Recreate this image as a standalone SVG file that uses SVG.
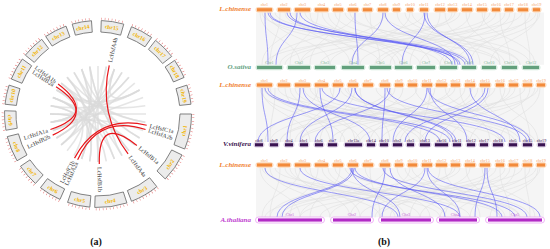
<svg xmlns="http://www.w3.org/2000/svg" xmlns:xlink="http://www.w3.org/1999/xlink" width="550" height="249" viewBox="0 0 550 249">
<style>
.box{fill:#ececec;stroke:#6e6e6e;stroke-width:.8}
.tk{fill:none;stroke:#e46a6a;stroke-width:2.2;stroke-dasharray:.5 3}
.ctx{font-family:"Liberation Serif",serif;font-weight:bold;font-size:5.6px;fill:#f2b400;text-anchor:middle;dominant-baseline:central}
.cg{fill:none;stroke:#dadada;stroke-width:1.6;opacity:.7}
.rl{fill:none;stroke:#e8161b;stroke-width:1.2}
.gn{font-family:"Liberation Serif",serif;font-size:6px;fill:#333}
.ho{fill:#fcd7b8}.bo{fill:#f28a3b}.lo{fill:#f4a46a}
.hg{fill:#d3e9dc}.bg{fill:#62a07c}.lg{fill:#7fb595}
.hv{fill:#d9cde2}.bv{fill:#3a1452}.lv{fill:#3a1452}
.ha{fill:#fff;stroke:#eaa5f2;stroke-width:.8}.ba{fill:#b22ac6}.la{fill:#c860d8}
.cl{font-family:"Liberation Serif",serif;font-size:4.2px;text-anchor:middle}
.sp{font-family:"Liberation Serif",serif;font-weight:bold;font-style:italic;font-size:7px;text-anchor:end}
.gl{fill:none;stroke:#e0e0e0;stroke-width:.6}
.gbg{fill:#f5f5f5}
.bl{fill:none;stroke:#5a5af5;stroke-width:.7;opacity:.85}
.cap{font-family:"Liberation Serif",serif;font-weight:bold;font-size:10px;fill:#111;text-anchor:middle}
</style>
<defs>
<path id="b6" d="M-9.77 -92.99A93.5 93.5 0 0 1 9.77 -92.99L8.57 -81.55A82 82 0 0 0 -8.57 -81.55Z"/>
<path id="b7" d="M-11.4 -92.8A93.5 93.5 0 0 1 11.4 -92.8L10 -81.39A82 82 0 0 0 -10 -81.39Z"/>
<path id="b8" d="M-13.02 -92.59A93.5 93.5 0 0 1 13.02 -92.59L11.41 -81.2A82 82 0 0 0 -11.41 -81.2Z"/>
<path id="b9" d="M-14.62 -92.35A93.5 93.5 0 0 1 14.62 -92.35L12.82 -80.99A82 82 0 0 0 -12.82 -80.99Z"/>
<path id="b10" d="M-16.23 -92.08A93.5 93.5 0 0 1 16.23 -92.08L14.24 -80.75A82 82 0 0 0 -14.24 -80.75Z"/>
<path id="b11" d="M-17.84 -91.78A93.5 93.5 0 0 1 17.84 -91.78L15.65 -80.49A82 82 0 0 0 -15.65 -80.49Z"/>
<path id="t6" d="M-9.96 -94.78A95.3 95.3 0 0 1 9.96 -94.78"/>
<path id="t7" d="M-11.61 -94.59A95.3 95.3 0 0 1 11.61 -94.59"/>
<path id="t8" d="M-13.26 -94.38A95.3 95.3 0 0 1 13.26 -94.38"/>
<path id="t9" d="M-14.91 -94.13A95.3 95.3 0 0 1 14.91 -94.13"/>
<path id="t10" d="M-16.54 -93.85A95.3 95.3 0 0 1 16.54 -93.85"/>
<path id="t11" d="M-18.18 -93.55A95.3 95.3 0 0 1 18.18 -93.55"/>
</defs>
<rect width="550" height="249" fill="#fff"/>

<!-- ===== Panel (a) ===== -->
<g id="a-links">
<g id="a-gray">
<path class="cg" d="M98 66Q98 114 98 162"/>
<path class="cg" d="M106.3 66.7Q98 114 81.6 159.1"/>
<path class="cg" d="M114.4 68.9Q98 114 122 155.6"/>
<path class="cg" d="M122 72.4Q98 114 56.4 138"/>
<path class="cg" d="M128.9 77.2Q98 114 50.7 122.3"/>
<path class="cg" d="M134.8 83.1Q98 114 61.2 144.9"/>
<path class="cg" d="M139.6 90Q98 114 50.7 105.7"/>
<path class="cg" d="M143.1 97.6Q98 114 52.9 130.4"/>
<path class="cg" d="M145.3 105.7Q98 114 56.4 90"/>
<path class="cg" d="M146 114Q98 114 50 114"/>
<path class="cg" d="M145.3 122.3Q98 114 67.1 77.2"/>
<path class="cg" d="M143.1 130.4Q98 114 50.7 122.3"/>
<path class="cg" d="M139.6 138Q98 114 81.6 68.9"/>
<path class="cg" d="M134.8 144.9Q98 114 52.9 97.6"/>
<path class="cg" d="M128.9 150.8Q98 114 89.7 66.7"/>
<path class="cg" d="M122 155.6Q98 114 61.2 83.1"/>
<path class="cg" d="M114.4 159.1Q98 114 74 72.4"/>
<path class="cg" d="M106.3 161.3Q98 114 52.9 97.6"/>
<path class="cg" d="M89.7 161.3Q98 114 67.1 77.2"/>
<path class="cg" d="M81.6 159.1Q98 114 81.6 68.9"/>
<path class="cg" d="M74 155.6Q98 114 56.4 90"/>
<path class="cg" d="M67.1 150.8Q98 114 89.7 66.7"/>
<path class="cg" d="M61.2 144.9Q98 114 106.3 66.7"/>
<path class="cg" d="M56.4 138Q98 114 114.4 68.9"/>
<path class="cg" d="M52.9 130.4Q98 114 128.9 77.2"/>
<path class="cg" d="M50.7 122.3Q98 114 122 72.4"/>
<path class="cg" d="M50 114Q98 114 134.8 144.9"/>
<path class="cg" d="M50.7 105.7Q98 114 114.4 159.1"/>
<path class="cg" d="M52.9 97.6Q98 114 89.7 161.3"/>
<path class="cg" d="M56.4 90Q98 114 139.6 90"/>
<path class="cg" d="M61.2 83.1Q98 114 145.3 122.3"/>
<path class="cg" d="M67.1 77.2Q98 114 81.6 159.1"/>
<path class="cg" d="M74 72.4Q98 114 139.6 138"/>
<path class="cg" d="M81.6 68.9Q98 114 98 162"/>
<path class="cg" d="M89.7 66.7Q98 114 128.9 150.8"/>
<path class="cg" d="M56.4 138Q98 114 50 114"/>
<path class="cg" d="M52.9 130.4Q98 114 52.9 97.6"/>
<path class="cg" d="M50.7 122.3Q98 114 61.2 83.1"/>
<path class="cg" d="M61.2 144.9Q98 114 50.7 105.7"/>
<path class="cg" d="M114.4 68.9Q98 114 139.6 90"/>
</g>
<g id="a-red">
<path class="rl" d="M58.07 83.91Q98 114 50.44 129.45"/>
<path class="rl" d="M56.07 86.77Q98 114 52.68 135.13"/>
<path class="rl" d="M109.25 65.28Q98 114 128.09 153.93"/>
<path class="rl" d="M146.72 125.25Q98 114 74.53 158.15"/>
<path class="rl" d="M145.55 129.45Q98 114 77.66 159.68"/>
<path class="rl" d="M136.86 145.47Q98 114 99.31 163.98"/>
</g>
</g>

<g id="a-genes">
<text class="gn" x="55.67" y="82.1" dy="2" text-anchor="end" transform="rotate(37 55.67 82.1)">LcHsfA1b</text>
<text class="gn" x="53.55" y="85.14" dy="2" text-anchor="end" transform="rotate(33 53.55 85.14)">LcHsfB2a</text>
<text class="gn" x="47.59" y="130.38" dy="2" text-anchor="end" transform="rotate(-18 47.59 130.38)">LcHsfA1a</text>
<text class="gn" x="49.97" y="136.4" dy="2" text-anchor="end" transform="rotate(-25 49.97 136.4)">LcHsfB2b</text>
<text class="gn" x="73.12" y="160.79" dy="2" text-anchor="end" transform="rotate(-62 73.12 160.79)">LcHsfC1b</text>
<text class="gn" x="76.44" y="162.42" dy="2" text-anchor="end" transform="rotate(-66 76.44 162.42)">LcHsfA2a</text>
<text class="gn" x="109.93" y="62.36" dy="2" transform="rotate(-77 109.93 62.36)">LcHsfA4b</text>
<text class="gn" x="149.64" y="125.92" dy="2" transform="rotate(13 149.64 125.92)">LcHsfC1a</text>
<text class="gn" x="148.41" y="130.38" dy="2" transform="rotate(18 148.41 130.38)">LcHsfA2b</text>
<text class="gn" x="139.19" y="147.35" dy="2" transform="rotate(39 139.19 147.35)">LcHsfB1a</text>
<text class="gn" x="129.9" y="156.33" dy="2" transform="rotate(53 129.9 156.33)">LcHsfA4a</text>
<text class="gn" x="99.39" y="166.98" dy="2" transform="rotate(88.5 99.39 166.98)">LcHsfB1b</text>
</g>

<g id="chr1" transform="translate(98 114) rotate(101)"><use href="#b11" class="box"/><use href="#t11" class="tk"/><text class="ctx" y="87.75" transform="rotate(180)">chr1</text></g>
<g id="chr2" transform="translate(98 114) rotate(125)"><use href="#b9" class="box"/><use href="#t9" class="tk"/><text class="ctx" y="87.75" transform="rotate(180)">chr2</text></g>
<g id="chr3" transform="translate(98 114) rotate(150)"><use href="#b9" class="box"/><use href="#t9" class="tk"/><text class="ctx" y="87.75" transform="rotate(180)">chr3</text></g>
<g id="chr4" transform="translate(98 114) rotate(172)"><use href="#b10" class="box"/><use href="#t10" class="tk"/><text class="ctx" y="87.75" transform="rotate(180)">chr4</text></g>
<g id="chr5" transform="translate(98 114) rotate(192)"><use href="#b7" class="box"/><use href="#t7" class="tk"/><text class="ctx" y="87.75" transform="rotate(180)">chr5</text></g>
<g id="chr6" transform="translate(98 114) rotate(211)"><use href="#b7" class="box"/><use href="#t7" class="tk"/><text class="ctx" y="87.75" transform="rotate(180)">chr6</text></g>
<g id="chr7" transform="translate(98 114) rotate(229)"><use href="#b7" class="box"/><use href="#t7" class="tk"/><text class="ctx" y="87.75" transform="rotate(180)">chr7</text></g>
<g id="chr8" transform="translate(98 114) rotate(248)"><use href="#b8" class="box"/><use href="#t8" class="tk"/><text class="ctx" y="87.75" transform="rotate(180)">chr8</text></g>
<g id="chr9" transform="translate(98 114) rotate(266)"><use href="#b6" class="box"/><use href="#t6" class="tk"/><text class="ctx" y="87.75" transform="rotate(180)">chr9</text></g>
<g id="chr10" transform="translate(98 114) rotate(282)"><use href="#b6" class="box"/><use href="#t6" class="tk"/><text class="ctx" y="-87.75">chr10</text></g>
<g id="chr11" transform="translate(98 114) rotate(299)"><use href="#b7" class="box"/><use href="#t7" class="tk"/><text class="ctx" y="-87.75">chr11</text></g>
<g id="chr12" transform="translate(98 114) rotate(316)"><use href="#b7" class="box"/><use href="#t7" class="tk"/><text class="ctx" y="-87.75">chr12</text></g>
<g id="chr13" transform="translate(98 114) rotate(333)"><use href="#b7" class="box"/><use href="#t7" class="tk"/><text class="ctx" y="-87.75">chr13</text></g>
<g id="chr14" transform="translate(98 114) rotate(350)"><use href="#b6" class="box"/><use href="#t6" class="tk"/><text class="ctx" y="-87.75">chr14</text></g>
<g id="chr15" transform="translate(98 114) rotate(9)"><use href="#b7" class="box"/><use href="#t7" class="tk"/><text class="ctx" y="-87.75">chr15</text></g>
<g id="chr16" transform="translate(98 114) rotate(28)"><use href="#b7" class="box"/><use href="#t7" class="tk"/><text class="ctx" y="-87.75">chr16</text></g>
<g id="chr17" transform="translate(98 114) rotate(45)"><use href="#b7" class="box"/><use href="#t7" class="tk"/><text class="ctx" y="-87.75">chr17</text></g>
<g id="chr18" transform="translate(98 114) rotate(61)"><use href="#b6" class="box"/><use href="#t6" class="tk"/><text class="ctx" y="-87.75">chr18</text></g>
<g id="chr19" transform="translate(98 114) rotate(78)"><use href="#b6" class="box"/><use href="#t6" class="tk"/><text class="ctx" y="-87.75">chr19</text></g>

<text class="cap" x="96" y="245">(a)</text>

<!-- ===== Panel (b) ===== -->
<g id="b-links">
<rect class="gbg" x="256" y="12.5" width="288" height="52.25"/>
<rect class="gbg" x="256" y="87.75" width="288" height="54.3"/>
<rect class="gbg" x="256" y="167.75" width="288" height="49.5"/>
<g id="gA">
<path class="gl" d="M260 12.5C260 38.6 300 38.6 300 64.75"/>
<path class="gl" d="M265 12.5C265 38.6 380 38.6 380 64.75"/>
<path class="gl" d="M270 12.5C270 38.6 330 38.6 330 64.75"/>
<path class="gl" d="M280 12.5C280 38.6 270 38.6 270 64.75"/>
<path class="gl" d="M285 12.5C285 38.6 420 38.6 420 64.75"/>
<path class="gl" d="M295 12.5C295 38.6 350 38.6 350 64.75"/>
<path class="gl" d="M300 12.5C300 38.6 262 38.6 262 64.75"/>
<path class="gl" d="M305 12.5C305 38.6 470 38.6 470 64.75"/>
<path class="gl" d="M318 12.5C318 38.6 290 38.6 290 64.75"/>
<path class="gl" d="M322 12.5C322 38.6 400 38.6 400 64.75"/>
<path class="gl" d="M335 12.5C335 38.6 445 38.6 445 64.75"/>
<path class="gl" d="M340 12.5C340 38.6 310 38.6 310 64.75"/>
<path class="gl" d="M350 12.5C350 38.6 500 38.6 500 64.75"/>
<path class="gl" d="M355 12.5C355 38.6 270 38.6 270 64.75"/>
<path class="gl" d="M365 12.5C365 38.6 430 38.6 430 64.75"/>
<path class="gl" d="M370 12.5C370 38.6 380 38.6 380 64.75"/>
<path class="gl" d="M383 12.5C383 38.6 520 38.6 520 64.75"/>
<path class="gl" d="M385 12.5C385 38.6 300 38.6 300 64.75"/>
<path class="gl" d="M397 12.5C397 38.6 460 38.6 460 64.75"/>
<path class="gl" d="M410 12.5C410 38.6 350 38.6 350 64.75"/>
<path class="gl" d="M412 12.5C412 38.6 530 38.6 530 64.75"/>
<path class="gl" d="M424 12.5C424 38.6 280 38.6 280 64.75"/>
<path class="gl" d="M440 12.5C440 38.6 410 38.6 410 64.75"/>
<path class="gl" d="M445 12.5C445 38.6 480 38.6 480 64.75"/>
<path class="gl" d="M452 12.5C452 38.6 330 38.6 330 64.75"/>
<path class="gl" d="M466 12.5C466 38.6 500 38.6 500 64.75"/>
<path class="gl" d="M470 12.5C470 38.6 390 38.6 390 64.75"/>
<path class="gl" d="M482 12.5C482 38.6 535 38.6 535 64.75"/>
<path class="gl" d="M485 12.5C485 38.6 445 38.6 445 64.75"/>
<path class="gl" d="M496 12.5C496 38.6 360 38.6 360 64.75"/>
<path class="gl" d="M500 12.5C500 38.6 510 38.6 510 64.75"/>
<path class="gl" d="M510 12.5C510 38.6 420 38.6 420 64.75"/>
<path class="gl" d="M515 12.5C515 38.6 470 38.6 470 64.75"/>
<path class="gl" d="M522 12.5C522 38.6 300 38.6 300 64.75"/>
<path class="gl" d="M525 12.5C525 38.6 530 38.6 530 64.75"/>
<path class="gl" d="M536 12.5C536 38.6 380 38.6 380 64.75"/>
<path class="gl" d="M538 12.5C538 38.6 490 38.6 490 64.75"/>
<path class="gl" d="M530 12.5C530 38.6 440 38.6 440 64.75"/>
<path class="gl" d="M275 12.5C275 38.6 500 38.6 500 64.75"/>
<path class="gl" d="M345 12.5C345 38.6 520 38.6 520 64.75"/>
<path class="gl" d="M455 12.5C455 38.6 265 38.6 265 64.75"/>
<path class="gl" d="M490 12.5C490 38.6 320 38.6 320 64.75"/>
<path class="gl" d="M262 12.5C262 38.6 440 38.6 440 64.75"/>
<path class="gl" d="M310 12.5C310 38.6 360 38.6 360 64.75"/>
<path class="gl" d="M328 12.5C328 38.6 405 38.6 405 64.75"/>
<path class="gl" d="M405 12.5C405 38.6 505 38.6 505 64.75"/>
<path class="gl" d="M460 12.5C460 38.6 285 38.6 285 64.75"/>
<path class="gl" d="M505 12.5C505 38.6 375 38.6 375 64.75"/>
<path class="gl" d="M540 12.5C540 38.6 455 38.6 455 64.75"/>
<path class="gl" d="M290 12.5C290 38.6 395 38.6 395 64.75"/>
</g>
<use href="#gA" transform="matrix(-1 0 0 1.0433 800 74.71)"/>
<use href="#gA" transform="matrix(1 0 0 0.9519 0 155.85)"/>
<g id="blueA">
<path class="bl" d="M265 12.5C265 38.6 268 38.6 268 64.75"/>
<path class="bl" d="M297 12.5C297 38.6 276 38.6 276 64.75"/>
<path class="bl" d="M268 12.5C268 38.6 465 38.6 465 64.75"/>
<path class="bl" d="M287 12.5C287 38.6 468 38.6 468 64.75"/>
<path class="bl" d="M290 12.5C290 38.6 458 38.6 458 64.75"/>
<path class="bl" d="M355 12.5C355 38.6 358 38.6 358 64.75"/>
<path class="bl" d="M383 12.5C383 38.6 352 38.6 352 64.75"/>
<path class="bl" d="M385 12.5C385 38.6 455 38.6 455 64.75"/>
<path class="bl" d="M425 12.5C425 38.6 402 38.6 402 64.75"/>
<path class="bl" d="M427 12.5C427 38.6 470 38.6 470 64.75"/>
<path class="bl" d="M424 12.5C424 38.6 473 38.6 473 64.75"/>
<path class="bl" d="M300 12.5C300 38.6 452 38.6 452 64.75"/>
<path class="bl" d="M270 12.5C270 38.6 460 38.6 460 64.75"/>
</g>
<g id="blueB">
<path class="bl" d="M262 88C262 115 268 115 268 142"/>
<path class="bl" d="M268 88C268 115 450 115 450 142"/>
<path class="bl" d="M300 88C300 115 287 115 287 142"/>
<path class="bl" d="M303 88C303 115 370 115 370 142"/>
<path class="bl" d="M320 88C320 115 333 115 333 142"/>
<path class="bl" d="M322 88C322 115 505 115 505 142"/>
<path class="bl" d="M352 88C352 115 300 115 300 142"/>
<path class="bl" d="M355 88C355 115 453 115 453 142"/>
<path class="bl" d="M385 88C385 115 382 115 382 142"/>
<path class="bl" d="M387 88C387 115 527 115 527 142"/>
<path class="bl" d="M390 88C390 115 315 115 315 142"/>
<path class="bl" d="M427 88C427 115 393 115 393 142"/>
<path class="bl" d="M428 88C428 115 530 115 530 142"/>
<path class="bl" d="M430 88C430 115 467 115 467 142"/>
<path class="bl" d="M485 88C485 115 405 115 405 142"/>
<path class="bl" d="M488 88C488 115 425 115 425 142"/>
<path class="bl" d="M340 88C340 115 258 115 258 142"/>
<path class="bl" d="M470 88C470 115 520 115 520 142"/>
<path class="bl" d="M265 88C265 115 440 115 440 142"/>
<path class="bl" d="M355 88C355 115 456 115 456 142"/>
</g>
<g id="blueC">
<path class="bl" d="M352 168C352 192.6 277 192.6 277 217.25"/>
<path class="bl" d="M354 168C354 192.6 282 192.6 282 217.25"/>
<path class="bl" d="M385 168C385 192.6 372 192.6 372 217.25"/>
<path class="bl" d="M352 168C352 192.6 400 192.6 400 217.25"/>
<path class="bl" d="M425 168C425 192.6 382 192.6 382 217.25"/>
<path class="bl" d="M427 168C427 192.6 460 192.6 460 217.25"/>
<path class="bl" d="M485 168C485 192.6 475 192.6 475 217.25"/>
<path class="bl" d="M487 168C487 192.6 497 192.6 497 217.25"/>
<path class="bl" d="M383 168C383 192.6 527 192.6 527 217.25"/>
<path class="bl" d="M428 168C428 192.6 540 192.6 540 217.25"/>
<path class="bl" d="M300 168C300 192.6 460 192.6 460 217.25"/>
<path class="bl" d="M265 168C265 192.6 398 192.6 398 217.25"/>
<path class="bl" d="M355 168C355 192.6 502 192.6 502 217.25"/>
<path class="bl" d="M390 168C390 192.6 445 192.6 445 217.25"/>
<path class="bl" d="M350 168C350 192.6 515 192.6 515 217.25"/>
</g>
</g>

<g id="sp-labels">
<text class="sp" x="251" y="10.8" fill="#f08030">L.chinense</text>
<text class="sp" x="251" y="68.7" fill="#5f9f7f">O.sativa</text>
<text class="sp" x="251" y="86.5" fill="#f08030">L.chinense</text>
<text class="sp" x="251" y="146.3" fill="#3b1550">V.vinifera</text>
<text class="sp" x="251" y="166.5" fill="#f08030">L.chinense</text>
<text class="sp" x="251" y="222" fill="#c040d0">A.thaliana</text>
</g>

<g id="row1">
<g id="r1-chr1"><rect class="ho" x="255.5" y="7" width="18" height="5.5" rx="2.75"/><rect class="bo" x="257" y="8.2" width="15" height="3.1"/><text class="cl lo" x="264.5" y="6.3">chr1</text></g>
<g id="r1-chr2"><rect class="ho" x="276.5" y="7" width="15" height="5.5" rx="2.75"/><rect class="bo" x="278" y="8.2" width="12" height="3.1"/><text class="cl lo" x="284" y="6.3">chr2</text></g>
<g id="r1-chr3"><rect class="ho" x="293.5" y="7" width="18" height="5.5" rx="2.75"/><rect class="bo" x="295" y="8.2" width="15" height="3.1"/><text class="cl lo" x="302.5" y="6.3">chr3</text></g>
<g id="r1-chr4"><rect class="ho" x="313.5" y="7" width="16" height="5.5" rx="2.75"/><rect class="bo" x="315" y="8.2" width="13" height="3.1"/><text class="cl lo" x="321.5" y="6.3">chr4</text></g>
<g id="r1-chr5"><rect class="ho" x="331.5" y="7" width="13" height="5.5" rx="2.75"/><rect class="bo" x="333" y="8.2" width="10" height="3.1"/><text class="cl lo" x="338" y="6.3">chr5</text></g>
<g id="r1-chr6"><rect class="ho" x="346.5" y="7" width="13" height="5.5" rx="2.75"/><rect class="bo" x="348" y="8.2" width="10" height="3.1"/><text class="cl lo" x="353" y="6.3">chr6</text></g>
<g id="r1-chr7"><rect class="ho" x="361.5" y="7" width="12" height="5.5" rx="2.75"/><rect class="bo" x="363" y="8.2" width="9" height="3.1"/><text class="cl lo" x="367.5" y="6.3">chr7</text></g>
<g id="r1-chr8"><rect class="ho" x="376.5" y="7" width="13" height="5.5" rx="2.75"/><rect class="bo" x="378" y="8.2" width="10" height="3.1"/><text class="cl lo" x="383" y="6.3">chr8</text></g>
<g id="r1-chr9"><rect class="ho" x="391.5" y="7" width="10" height="5.5" rx="2.75"/><rect class="bo" x="393" y="8.2" width="7" height="3.1"/><text class="cl lo" x="396.5" y="6.3">chr9</text></g>
<g id="r1-chr10"><rect class="ho" x="405.5" y="7" width="9" height="5.5" rx="2.75"/><rect class="bo" x="407" y="8.2" width="6" height="3.1"/><text class="cl lo" x="410" y="6.3">chr10</text></g>
<g id="r1-chr11"><rect class="ho" x="418.5" y="7" width="11" height="5.5" rx="2.75"/><rect class="bo" x="420" y="8.2" width="8" height="3.1"/><text class="cl lo" x="424" y="6.3">chr11</text></g>
<g id="r1-chr12"><rect class="ho" x="433.5" y="7" width="13" height="5.5" rx="2.75"/><rect class="bo" x="435" y="8.2" width="10" height="3.1"/><text class="cl lo" x="440" y="6.3">chr12</text></g>
<g id="r1-chr13"><rect class="ho" x="446.5" y="7" width="12" height="5.5" rx="2.75"/><rect class="bo" x="448" y="8.2" width="9" height="3.1"/><text class="cl lo" x="452.5" y="6.3">chr13</text></g>
<g id="r1-chr14"><rect class="ho" x="460.5" y="7" width="13" height="5.5" rx="2.75"/><rect class="bo" x="462" y="8.2" width="10" height="3.1"/><text class="cl lo" x="467" y="6.3">chr14</text></g>
<g id="r1-chr15"><rect class="ho" x="475.5" y="7" width="13" height="5.5" rx="2.75"/><rect class="bo" x="477" y="8.2" width="10" height="3.1"/><text class="cl lo" x="482" y="6.3">chr15</text></g>
<g id="r1-chr16"><rect class="ho" x="490.5" y="7" width="11" height="5.5" rx="2.75"/><rect class="bo" x="492" y="8.2" width="8" height="3.1"/><text class="cl lo" x="496" y="6.3">chr16</text></g>
<g id="r1-chr17"><rect class="ho" x="503.5" y="7" width="11" height="5.5" rx="2.75"/><rect class="bo" x="505" y="8.2" width="8" height="3.1"/><text class="cl lo" x="509" y="6.3">chr17</text></g>
<g id="r1-chr18"><rect class="ho" x="516.5" y="7" width="13" height="5.5" rx="2.75"/><rect class="bo" x="518" y="8.2" width="10" height="3.1"/><text class="cl lo" x="523" y="6.3">chr18</text></g>
<g id="r1-chr19"><rect class="ho" x="531.5" y="7" width="10" height="5.5" rx="2.75"/><rect class="bo" x="533" y="8.2" width="7" height="3.1"/><text class="cl lo" x="536.5" y="6.3">chr19</text></g>
</g>

<g id="row2">
<g id="os-chr1"><rect class="hg" x="255.5" y="64.75" width="28" height="5.5" rx="2.75"/><rect class="bg" x="257" y="65.95" width="25" height="3.1"/><text class="cl lg" x="269.5" y="64.4">Chr1</text></g>
<g id="os-chr2"><rect class="hg" x="286.5" y="64.75" width="25" height="5.5" rx="2.75"/><rect class="bg" x="288" y="65.95" width="22" height="3.1"/><text class="cl lg" x="299" y="64.4">Chr2</text></g>
<g id="os-chr3"><rect class="hg" x="313.5" y="64.75" width="23" height="5.5" rx="2.75"/><rect class="bg" x="315" y="65.95" width="20" height="3.1"/><text class="cl lg" x="325" y="64.4">Chr3</text></g>
<g id="os-chr4"><rect class="hg" x="340.5" y="64.75" width="25" height="5.5" rx="2.75"/><rect class="bg" x="342" y="65.95" width="22" height="3.1"/><text class="cl lg" x="353" y="64.4">Chr4</text></g>
<g id="os-chr5"><rect class="hg" x="368.5" y="64.75" width="24" height="5.5" rx="2.75"/><rect class="bg" x="370" y="65.95" width="21" height="3.1"/><text class="cl lg" x="380.5" y="64.4">Chr5</text></g>
<g id="os-chr6"><rect class="hg" x="393.5" y="64.75" width="20" height="5.5" rx="2.75"/><rect class="bg" x="395" y="65.95" width="17" height="3.1"/><text class="cl lg" x="403.5" y="64.4">Chr6</text></g>
<g id="os-chr7"><rect class="hg" x="415.5" y="64.75" width="21" height="5.5" rx="2.75"/><rect class="bg" x="417" y="65.95" width="18" height="3.1"/><text class="cl lg" x="426" y="64.4">Chr7</text></g>
<g id="os-chr8"><rect class="hg" x="438.5" y="64.75" width="20" height="5.5" rx="2.75"/><rect class="bg" x="440" y="65.95" width="17" height="3.1"/><text class="cl lg" x="448.5" y="64.4">Chr8</text></g>
<g id="os-chr9"><rect class="hg" x="460.5" y="64.75" width="17" height="5.5" rx="2.75"/><rect class="bg" x="462" y="65.95" width="14" height="3.1"/><text class="cl lg" x="469" y="64.4">Chr9</text></g>
<g id="os-chr10"><rect class="hg" x="480.5" y="64.75" width="17" height="5.5" rx="2.75"/><rect class="bg" x="482" y="65.95" width="14" height="3.1"/><text class="cl lg" x="489" y="64.4">Chr10</text></g>
<g id="os-chr11"><rect class="hg" x="500.5" y="64.75" width="18" height="5.5" rx="2.75"/><rect class="bg" x="502" y="65.95" width="15" height="3.1"/><text class="cl lg" x="509.5" y="64.4">Chr11</text></g>
<g id="os-chr12"><rect class="hg" x="521.5" y="64.75" width="19" height="5.5" rx="2.75"/><rect class="bg" x="523" y="65.95" width="16" height="3.1"/><text class="cl lg" x="531" y="64.4">Chr12</text></g>
</g>

<g id="row3">
<g id="r3-chr1"><rect class="ho" x="255.5" y="82.25" width="18" height="5.5" rx="2.75"/><rect class="bo" x="257" y="83.45" width="15" height="3.1"/><text class="cl lo" x="264.5" y="81.9">chr1</text></g>
<g id="r3-chr2"><rect class="ho" x="276.5" y="82.25" width="15" height="5.5" rx="2.75"/><rect class="bo" x="278" y="83.45" width="12" height="3.1"/><text class="cl lo" x="284" y="81.9">chr2</text></g>
<g id="r3-chr3"><rect class="ho" x="293.5" y="82.25" width="18" height="5.5" rx="2.75"/><rect class="bo" x="295" y="83.45" width="15" height="3.1"/><text class="cl lo" x="302.5" y="81.9">chr3</text></g>
<g id="r3-chr4"><rect class="ho" x="313.5" y="82.25" width="16" height="5.5" rx="2.75"/><rect class="bo" x="315" y="83.45" width="13" height="3.1"/><text class="cl lo" x="321.5" y="81.9">chr4</text></g>
<g id="r3-chr5"><rect class="ho" x="331.5" y="82.25" width="13" height="5.5" rx="2.75"/><rect class="bo" x="333" y="83.45" width="10" height="3.1"/><text class="cl lo" x="338" y="81.9">chr5</text></g>
<g id="r3-chr6"><rect class="ho" x="346.5" y="82.25" width="13" height="5.5" rx="2.75"/><rect class="bo" x="348" y="83.45" width="10" height="3.1"/><text class="cl lo" x="353" y="81.9">chr6</text></g>
<g id="r3-chr7"><rect class="ho" x="361.5" y="82.25" width="13" height="5.5" rx="2.75"/><rect class="bo" x="363" y="83.45" width="10" height="3.1"/><text class="cl lo" x="368" y="81.9">chr7</text></g>
<g id="r3-chr8"><rect class="ho" x="378.5" y="82.25" width="13" height="5.5" rx="2.75"/><rect class="bo" x="380" y="83.45" width="10" height="3.1"/><text class="cl lo" x="385" y="81.9">chr8</text></g>
<g id="r3-chr9"><rect class="ho" x="393.5" y="82.25" width="11" height="5.5" rx="2.75"/><rect class="bo" x="395" y="83.45" width="8" height="3.1"/><text class="cl lo" x="399" y="81.9">chr9</text></g>
<g id="r3-chr10"><rect class="ho" x="406.5" y="82.25" width="12" height="5.5" rx="2.75"/><rect class="bo" x="408" y="83.45" width="9" height="3.1"/><text class="cl lo" x="412.5" y="81.9">chr10</text></g>
<g id="r3-chr11"><rect class="ho" x="420.5" y="82.25" width="13" height="5.5" rx="2.75"/><rect class="bo" x="422" y="83.45" width="10" height="3.1"/><text class="cl lo" x="427" y="81.9">chr11</text></g>
<g id="r3-chr12"><rect class="ho" x="434.5" y="82.25" width="14" height="5.5" rx="2.75"/><rect class="bo" x="436" y="83.45" width="11" height="3.1"/><text class="cl lo" x="441.5" y="81.9">chr12</text></g>
<g id="r3-chr13"><rect class="ho" x="449.5" y="82.25" width="12" height="5.5" rx="2.75"/><rect class="bo" x="451" y="83.45" width="9" height="3.1"/><text class="cl lo" x="455.5" y="81.9">chr13</text></g>
<g id="r3-chr14"><rect class="ho" x="463.5" y="82.25" width="13" height="5.5" rx="2.75"/><rect class="bo" x="465" y="83.45" width="10" height="3.1"/><text class="cl lo" x="470" y="81.9">chr14</text></g>
<g id="r3-chr15"><rect class="ho" x="478.5" y="82.25" width="13" height="5.5" rx="2.75"/><rect class="bo" x="480" y="83.45" width="10" height="3.1"/><text class="cl lo" x="485" y="81.9">chr15</text></g>
<g id="r3-chr16"><rect class="ho" x="494.5" y="82.25" width="11" height="5.5" rx="2.75"/><rect class="bo" x="496" y="83.45" width="8" height="3.1"/><text class="cl lo" x="500" y="81.9">chr16</text></g>
<g id="r3-chr17"><rect class="ho" x="507.5" y="82.25" width="12" height="5.5" rx="2.75"/><rect class="bo" x="509" y="83.45" width="9" height="3.1"/><text class="cl lo" x="513.5" y="81.9">chr17</text></g>
<g id="r3-chr18"><rect class="ho" x="521.5" y="82.25" width="12" height="5.5" rx="2.75"/><rect class="bo" x="523" y="83.45" width="9" height="3.1"/><text class="cl lo" x="527.5" y="81.9">chr18</text></g>
<g id="r3-chr19"><rect class="ho" x="535.5" y="82.25" width="11" height="5.5" rx="2.75"/><rect class="bo" x="537" y="83.45" width="8" height="3.1"/><text class="cl lo" x="541" y="81.9">chr19</text></g>
</g>

<g id="row4">
<g id="vv-chr8"><rect class="hv" x="253.5" y="142.05" width="11" height="5.5" rx="2.75"/><rect class="bv" x="255" y="143.25" width="8" height="3.1"/><text class="cl lv" x="259" y="141.7">chr8</text></g>
<g id="vv-chr9"><rect class="hv" x="268.5" y="142.05" width="11" height="5.5" rx="2.75"/><rect class="bv" x="270" y="143.25" width="8" height="3.1"/><text class="cl lv" x="274" y="141.7">chr9</text></g>
<g id="vv-chr4"><rect class="hv" x="283.5" y="142.05" width="11" height="5.5" rx="2.75"/><rect class="bv" x="285" y="143.25" width="8" height="3.1"/><text class="cl lv" x="289" y="141.7">chr4</text></g>
<g id="vv-chr1"><rect class="hv" x="298.5" y="142.05" width="11" height="5.5" rx="2.75"/><rect class="bv" x="300" y="143.25" width="8" height="3.1"/><text class="cl lv" x="304" y="141.7">chr1</text></g>
<g id="vv-chr6"><rect class="hv" x="313.5" y="142.05" width="11" height="5.5" rx="2.75"/><rect class="bv" x="315" y="143.25" width="8" height="3.1"/><text class="cl lv" x="319" y="141.7">chr6</text></g>
<g id="vv-chr7"><rect class="hv" x="326.5" y="142.05" width="12" height="5.5" rx="2.75"/><rect class="bv" x="328" y="143.25" width="9" height="3.1"/><text class="cl lv" x="332.5" y="141.7">chr7</text></g>
<g id="vv-chr13a"><rect class="hv" x="343.5" y="142.05" width="20" height="5.5" rx="2.75"/><rect class="bv" x="345" y="143.25" width="17" height="3.1"/><text class="cl lv" x="353.5" y="141.7">chr13a</text></g>
<g id="vv-chr14"><rect class="hv" x="365.5" y="142.05" width="11" height="5.5" rx="2.75"/><rect class="bv" x="367" y="143.25" width="8" height="3.1"/><text class="cl lv" x="371" y="141.7">chr14</text></g>
<g id="vv-chr10"><rect class="hv" x="378.5" y="142.05" width="11" height="5.5" rx="2.75"/><rect class="bv" x="380" y="143.25" width="8" height="3.1"/><text class="cl lv" x="384" y="141.7">chr10</text></g>
<g id="vv-chr2"><rect class="hv" x="391.5" y="142.05" width="12" height="5.5" rx="2.75"/><rect class="bv" x="393" y="143.25" width="9" height="3.1"/><text class="cl lv" x="397.5" y="141.7">chr2</text></g>
<g id="vv-chr3"><rect class="hv" x="405.5" y="142.05" width="10" height="5.5" rx="2.75"/><rect class="bv" x="407" y="143.25" width="7" height="3.1"/><text class="cl lv" x="410.5" y="141.7">chr3</text></g>
<g id="vv-chr13"><rect class="hv" x="418.5" y="142.05" width="13" height="5.5" rx="2.75"/><rect class="bv" x="420" y="143.25" width="10" height="3.1"/><text class="cl lv" x="425" y="141.7">chr13</text></g>
<g id="vv-chr16"><rect class="hv" x="433.5" y="142.05" width="16" height="5.5" rx="2.75"/><rect class="bv" x="435" y="143.25" width="13" height="3.1"/><text class="cl lv" x="441.5" y="141.7">chr16</text></g>
<g id="vv-chr11"><rect class="hv" x="451.5" y="142.05" width="11" height="5.5" rx="2.75"/><rect class="bv" x="453" y="143.25" width="8" height="3.1"/><text class="cl lv" x="457" y="141.7">chr11</text></g>
<g id="vv-chr12"><rect class="hv" x="465.5" y="142.05" width="11" height="5.5" rx="2.75"/><rect class="bv" x="467" y="143.25" width="8" height="3.1"/><text class="cl lv" x="471" y="141.7">chr12</text></g>
<g id="vv-chr17"><rect class="hv" x="478.5" y="142.05" width="11" height="5.5" rx="2.75"/><rect class="bv" x="480" y="143.25" width="8" height="3.1"/><text class="cl lv" x="484" y="141.7">chr17</text></g>
<g id="vv-chr18"><rect class="hv" x="491.5" y="142.05" width="13" height="5.5" rx="2.75"/><rect class="bv" x="493" y="143.25" width="10" height="3.1"/><text class="cl lv" x="498" y="141.7">chr18</text></g>
<g id="vv-chr5"><rect class="hv" x="507.5" y="142.05" width="11" height="5.5" rx="2.75"/><rect class="bv" x="509" y="143.25" width="8" height="3.1"/><text class="cl lv" x="513" y="141.7">chr5</text></g>
<g id="vv-chr15"><rect class="hv" x="521.5" y="142.05" width="12" height="5.5" rx="2.75"/><rect class="bv" x="523" y="143.25" width="9" height="3.1"/><text class="cl lv" x="527.5" y="141.7">chr15</text></g>
<g id="vv-chr19"><rect class="hv" x="536.5" y="142.05" width="10" height="5.5" rx="2.75"/><rect class="bv" x="538" y="143.25" width="7" height="3.1"/><text class="cl lv" x="541.5" y="141.7">chr19</text></g>
</g>

<g id="row5">
<g id="r5-chr1"><rect class="ho" x="255.5" y="162.25" width="18" height="5.5" rx="2.75"/><rect class="bo" x="257" y="163.45" width="15" height="3.1"/><text class="cl lo" x="264.5" y="161.9">chr1</text></g>
<g id="r5-chr2"><rect class="ho" x="276.5" y="162.25" width="15" height="5.5" rx="2.75"/><rect class="bo" x="278" y="163.45" width="12" height="3.1"/><text class="cl lo" x="284" y="161.9">chr2</text></g>
<g id="r5-chr3"><rect class="ho" x="293.5" y="162.25" width="18" height="5.5" rx="2.75"/><rect class="bo" x="295" y="163.45" width="15" height="3.1"/><text class="cl lo" x="302.5" y="161.9">chr3</text></g>
<g id="r5-chr4"><rect class="ho" x="313.5" y="162.25" width="16" height="5.5" rx="2.75"/><rect class="bo" x="315" y="163.45" width="13" height="3.1"/><text class="cl lo" x="321.5" y="161.9">chr4</text></g>
<g id="r5-chr5"><rect class="ho" x="331.5" y="162.25" width="13" height="5.5" rx="2.75"/><rect class="bo" x="333" y="163.45" width="10" height="3.1"/><text class="cl lo" x="338" y="161.9">chr5</text></g>
<g id="r5-chr6"><rect class="ho" x="346.5" y="162.25" width="13" height="5.5" rx="2.75"/><rect class="bo" x="348" y="163.45" width="10" height="3.1"/><text class="cl lo" x="353" y="161.9">chr6</text></g>
<g id="r5-chr7"><rect class="ho" x="361.5" y="162.25" width="13" height="5.5" rx="2.75"/><rect class="bo" x="363" y="163.45" width="10" height="3.1"/><text class="cl lo" x="368" y="161.9">chr7</text></g>
<g id="r5-chr8"><rect class="ho" x="378.5" y="162.25" width="13" height="5.5" rx="2.75"/><rect class="bo" x="380" y="163.45" width="10" height="3.1"/><text class="cl lo" x="385" y="161.9">chr8</text></g>
<g id="r5-chr9"><rect class="ho" x="393.5" y="162.25" width="11" height="5.5" rx="2.75"/><rect class="bo" x="395" y="163.45" width="8" height="3.1"/><text class="cl lo" x="399" y="161.9">chr9</text></g>
<g id="r5-chr10"><rect class="ho" x="406.5" y="162.25" width="12" height="5.5" rx="2.75"/><rect class="bo" x="408" y="163.45" width="9" height="3.1"/><text class="cl lo" x="412.5" y="161.9">chr10</text></g>
<g id="r5-chr11"><rect class="ho" x="420.5" y="162.25" width="13" height="5.5" rx="2.75"/><rect class="bo" x="422" y="163.45" width="10" height="3.1"/><text class="cl lo" x="427" y="161.9">chr11</text></g>
<g id="r5-chr12"><rect class="ho" x="434.5" y="162.25" width="14" height="5.5" rx="2.75"/><rect class="bo" x="436" y="163.45" width="11" height="3.1"/><text class="cl lo" x="441.5" y="161.9">chr12</text></g>
<g id="r5-chr13"><rect class="ho" x="449.5" y="162.25" width="12" height="5.5" rx="2.75"/><rect class="bo" x="451" y="163.45" width="9" height="3.1"/><text class="cl lo" x="455.5" y="161.9">chr13</text></g>
<g id="r5-chr14"><rect class="ho" x="463.5" y="162.25" width="13" height="5.5" rx="2.75"/><rect class="bo" x="465" y="163.45" width="10" height="3.1"/><text class="cl lo" x="470" y="161.9">chr14</text></g>
<g id="r5-chr15"><rect class="ho" x="478.5" y="162.25" width="13" height="5.5" rx="2.75"/><rect class="bo" x="480" y="163.45" width="10" height="3.1"/><text class="cl lo" x="485" y="161.9">chr15</text></g>
<g id="r5-chr16"><rect class="ho" x="494.5" y="162.25" width="11" height="5.5" rx="2.75"/><rect class="bo" x="496" y="163.45" width="8" height="3.1"/><text class="cl lo" x="500" y="161.9">chr16</text></g>
<g id="r5-chr17"><rect class="ho" x="507.5" y="162.25" width="12" height="5.5" rx="2.75"/><rect class="bo" x="509" y="163.45" width="9" height="3.1"/><text class="cl lo" x="513.5" y="161.9">chr17</text></g>
<g id="r5-chr18"><rect class="ho" x="521.5" y="162.25" width="12" height="5.5" rx="2.75"/><rect class="bo" x="523" y="163.45" width="9" height="3.1"/><text class="cl lo" x="527.5" y="161.9">chr18</text></g>
<g id="r5-chr19"><rect class="ho" x="535.5" y="162.25" width="11" height="5.5" rx="2.75"/><rect class="bo" x="537" y="163.45" width="8" height="3.1"/><text class="cl lo" x="541" y="161.9">chr19</text></g>
</g>

<g id="row6">
<g id="at-chr1"><rect class="ha" x="255.5" y="217" width="69" height="6" rx="3"/><rect class="ba" x="258" y="218.4" width="64" height="3.2"/><text class="cl la" x="290" y="216.2">Chr1</text></g>
<g id="at-chr2"><rect class="ha" x="330.5" y="217" width="43" height="6" rx="3"/><rect class="ba" x="333" y="218.4" width="38" height="3.2"/><text class="cl la" x="352" y="216.2">Chr2</text></g>
<g id="at-chr3"><rect class="ha" x="378.5" y="217" width="55" height="6" rx="3"/><rect class="ba" x="381" y="218.4" width="50" height="3.2"/><text class="cl la" x="406" y="216.2">Chr3</text></g>
<g id="at-chr4"><rect class="ha" x="436.5" y="217" width="43" height="6" rx="3"/><rect class="ba" x="439" y="218.4" width="38" height="3.2"/><text class="cl la" x="455" y="216.2">Chr4</text></g>
<g id="at-chr5"><rect class="ha" x="485.5" y="217" width="59" height="6" rx="3"/><rect class="ba" x="488" y="218.4" width="54" height="3.2"/><text class="cl la" x="515" y="216.2">Chr5</text></g>
</g>

<text class="cap" x="384" y="245">(b)</text>
</svg>
